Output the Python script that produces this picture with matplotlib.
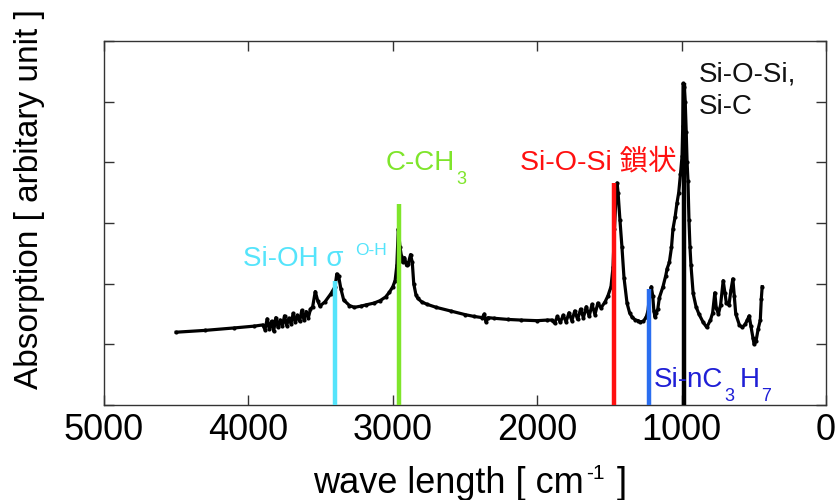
import matplotlib
matplotlib.use("Agg")
import matplotlib.pyplot as plt
from matplotlib.transforms import IdentityTransform

# ---------------- data ----------------
wavenumber = [
    # baseline + noisy Si-OH region
    4500, 4300, 4100, 3960, 3900, 3885, 3870, 3855, 3840, 3825, 3810, 3795, 3780,
    3765, 3750, 3735, 3720, 3705, 3690, 3675, 3660, 3645, 3630, 3615, 3600, 3585,
    3570, 3555,
    # Si-OH / C-H peaks
    3537, 3520, 3505, 3470, 3430, 3400, 3388, 3375, 3360, 3340, 3300, 3267, 3220,
    3186, 3130, 3088, 3050, 3023, 3000, 2984, 2972, 2962, 2950, 2940, 2932, 2919,
    2905, 2893, 2877, 2865, 2855, 2840, 2828, 2800, 2763, 2700, 2600, 2500, 2438,
    2380, 2366, 2355, 2340, 2300, 2200, 2113, 2000, 1930,
    # noisy region before Si-O-Si
    1900, 1880, 1860, 1840, 1820, 1800, 1780, 1760, 1740, 1720, 1700, 1680, 1660,
    1640, 1620, 1600, 1580, 1558, 1530, 1510, 1489, 1475, 1465, 1455, 1447,
    1440, 1427, 1413, 1399, 1378, 1360, 1343, 1320, 1300, 1288, 1265, 1245,
    1233, 1222, 1210, 1200, 1192, 1184, 1175, 1165, 1154, 1129, 1110, 1100,
    1085, 1070, 1060, 1045, 1032, 1020, 1008, 997, 992, 989, 983, 975, 968,
    962, 956, 949, 942, 935, 920, 900, 880, 850, 826, 800, 785, 770, 760, 745,
    730, 712, 700, 690, 672, 658, 645, 635, 625, 600, 580, 560, 545, 532, 520,
    505, 498, 485, 470, 455, 448, 442]
absorbance = [
    1.20, 1.23, 1.27, 1.30, 1.32, 1.24, 1.42, 1.25, 1.38, 1.22, 1.44, 1.28, 1.40,
    1.30, 1.47, 1.31, 1.43, 1.34, 1.51, 1.36, 1.48, 1.38, 1.56, 1.40, 1.54, 1.44,
    1.58, 1.62,
    1.87, 1.72, 1.63, 1.70, 1.83, 1.95, 2.16, 2.12, 1.92, 1.73, 1.64, 1.61, 1.63,
    1.65, 1.68, 1.72, 1.78, 1.86, 1.95, 2.05, 2.30, 2.90, 2.60, 2.45, 2.35, 2.43,
    2.30, 2.33, 2.48, 2.35, 2.00, 1.82, 1.76, 1.70, 1.66, 1.61, 1.55, 1.49, 1.46,
    1.44, 1.50, 1.37, 1.44, 1.43, 1.41, 1.40, 1.39, 1.40,
    1.40, 1.35, 1.46, 1.36, 1.48, 1.37, 1.52, 1.39, 1.55, 1.41, 1.58, 1.44, 1.62,
    1.46, 1.66, 1.49, 1.68, 1.60, 1.70, 1.80, 1.95, 2.27, 2.90, 3.40, 3.66,
    3.50, 3.05, 2.60, 2.10, 1.68, 1.52, 1.45, 1.40, 1.39, 1.37, 1.38, 1.45,
    1.55, 1.80, 1.95, 1.80, 1.55, 1.45, 1.52, 1.58, 1.77, 1.95, 2.13, 2.25,
    2.35, 2.60, 2.90, 3.10, 3.33, 3.50, 3.80, 4.10, 4.60, 5.30, 5.25, 5.00,
    4.50, 4.00, 3.70, 3.05, 2.60, 2.30, 1.84, 1.62, 1.50, 1.36, 1.28, 1.40,
    1.52, 1.85, 1.60, 1.50, 1.65, 2.05, 1.85, 1.68, 1.65, 1.90, 2.08, 1.80,
    1.50, 1.32, 1.28, 1.33, 1.40, 1.47, 1.30, 1.10, 1.00, 1.05, 1.25, 1.40,
    1.75, 1.95]

peak_pos = [3400, 2955, 1465, 1226, 985]
peak_top = [2.05, 3.31, 3.66, 1.91, 5.30]
peak_colors = ["#55e4fb", "#7fe52b", "#ff1010", "#2a6ef0", "#000000"]

xticks = [5000, 4000, 3000, 2000, 1000, 0]
xtick_labels = ["5000", "4000", "3000", "2000", "1000", "0"]
yticks = [0, 1, 2, 3, 4, 5, 6]

# ---------------- fonts ----------------
plt.rcParams["font.family"] = ["Liberation Sans", "Noto Sans CJK JP", "DejaVu Sans"]

W, H = 835, 500
fig = plt.figure(figsize=(W / 100, H / 100), dpi=100)
ax = fig.add_axes([104 / W, 1 - 405 / H, (826 - 104) / W, (405 - 41) / H])

ax.plot(wavenumber, absorbance, color="black", lw=2.3, marker="o", ms=2.0,
        solid_joinstyle="round", zorder=2)
ax.vlines(peak_pos, 0, peak_top, colors=peak_colors, lw=3.2, zorder=3)

ax.set_xlim(5000, 0)
ax.set_ylim(0, 6)
ax.set_xticks(xticks)
ax.set_xticklabels(xtick_labels)
ax.set_yticks(yticks)
ax.set_yticklabels([])
ax.tick_params(axis="both", direction="in", length=7, width=1, colors="#333333",
               top=True, right=True, labelsize=26, labelcolor="black", pad=6)
for sp in ax.spines.values():
    sp.set_color("#333333")
    sp.set_linewidth(1)

ax.set_ylabel("Absorption [ arbitary unit ]", fontsize=24)
ax.yaxis.set_label_coords(-0.082, 0.565)

renderer = fig.canvas.get_renderer()


def chain(parts, x0, y0, color, center=False):
    """parts: (text, size, dy_px, gap_px); x0,y0 in display pixels."""
    texts = []
    x = x0
    for s, size, dy, gap in parts:
        x += gap
        t = fig.text(x, y0 + dy, s, transform=IdentityTransform(), fontsize=size,
                     color=color, va="baseline", ha="left")
        x += t.get_window_extent(renderer).width
        texts.append(t)
    if center:
        shift = (x - x0) / 2
        for t in texts:
            px, py = t.get_position()
            t.set_position((px - shift, py))
    return texts


def at(xd, yd):
    return ax.transData.transform((xd, yd))


x0, y0 = at(4037, 2.29)
chain([("Si-OH σ", 20, 0, 0), ("O-H", 12.5, 11, 12)], x0, y0, "#55e4fb")
x0, y0 = at(3047, 3.87)
chain([("C-CH", 20, 0, 0), ("3", 13, -14, 1)], x0, y0, "#7fe52b")
x0, y0 = at(2119, 3.89)
chain([("Si-O-Si 鎖状", 20.5, 0, 0)], x0, y0, "#ff1010")
x0, y0 = at(884, 5.34)
chain([("Si-O-Si,", 20, 0, 0)], x0, y0, "#111111")
x0, y0 = at(884, 4.80)
chain([("Si-C", 20, 0, 0)], x0, y0, "#111111")
x0, y0 = at(1190, 0.30)
chain([("Si-nC", 20, 0, 0), ("3", 13, -14, 1), ("H", 20, 0, 5), ("7", 13, -14, 2)],
      x0, y0, "#1f1fd6")

# x axis label with superscript
chain([("wave length [ cm", 26, 0, 0), ("-1", 15, 14, 2), (" ]", 26, 0, 2)],
      470, 500 - 493, "black", center=True)

fig.savefig("out.png", dpi=100)
